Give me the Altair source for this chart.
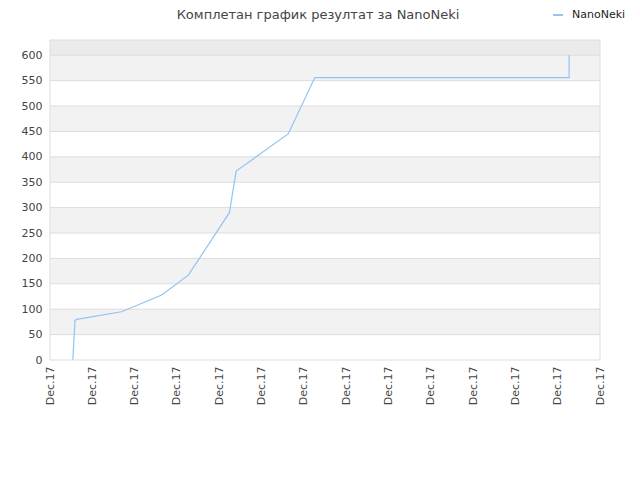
import altair as alt
import pandas as pd

# data
x_pos = [0.54, 0.55, 0.59, 0.63, 1.69, 2.64, 3.27, 4.24, 4.40, 5.63, 6.26, 12.27, 12.27]
scores = [0, 16, 78, 80, 95, 128, 167, 290, 372, 445, 556, 556, 600]
tick_vals = list(range(14))
tick_label = "Dec.17"
y_ticks = list(range(0, 601, 50))
series = "NanoNeki"
title = "Комплетан график резултат за NanoNeki"

FONT = "DejaVu Sans"
LINE = "#92c3f3"
W, H = 550, 320
YMAX = 630

df = pd.DataFrame({"x": x_pos, "y": scores, "o": list(range(len(x_pos)))})
bands = pd.DataFrame({
    "y0": [v for v in y_ticks[1::2]] + [600],
    "y1": [v + 50 for v in y_ticks[1::2]] + [YMAX],
    "c": ["#f2f2f2"] * len(y_ticks[1::2]) + ["#ebebeb"],
})
grid = pd.DataFrame({"g": y_ticks[1:]})

xs = alt.Scale(domain=[0, 13], nice=False, zero=False)
ys = alt.Scale(domain=[0, YMAX], nice=False)

yaxis = alt.Axis(
    values=y_ticks, title=None, ticks=False, domain=False, grid=False,
    labelFont=FONT, labelFontSize=11, labelColor="#444", labelPadding=8)

band_layer = alt.Chart(bands).mark_rect().encode(
    x=alt.value(0), x2=alt.value(W),
    y=alt.Y("y0:Q", scale=ys, axis=yaxis),
    y2="y1:Q",
    color=alt.Color("c:N", scale=None),
)

grid_layer = alt.Chart(grid).mark_rule(color="#dddddd", strokeWidth=1).encode(
    x=alt.value(0), x2=alt.value(W),
    y=alt.Y("g:Q", scale=ys, axis=yaxis),
)

line = alt.Chart(df).mark_line(color=LINE, strokeWidth=1.2).encode(
    x=alt.X("x:Q", scale=xs, axis=alt.Axis(
        values=tick_vals, labelExpr=f"'{tick_label}'", title=None,
        labelAngle=270, labelAlign="right", labelBaseline="middle",
        labelFont=FONT, labelFontSize=11, labelColor="#444", labelPadding=6,
        ticks=False, domain=False, grid=False, labelOverlap=False, labelFlush=False)),
    y=alt.Y("y:Q", scale=ys, axis=yaxis),
    order="o:Q",
)

border = alt.Chart(pd.DataFrame({"a": [0]})).mark_rect(
    fill=None, stroke="#dddddd", strokeWidth=1
).encode(x=alt.value(0), x2=alt.value(W), y=alt.value(0), y2=alt.value(H))

title_layer = alt.Chart(pd.DataFrame({"t": [title]})).mark_text(
    font=FONT, fontSize=13, color="#444", align="center", baseline="middle"
).encode(x=alt.value(268), y=alt.value(-25), text="t:N")

legend_line = alt.Chart(pd.DataFrame({"a": [0]})).mark_rule(
    color=LINE, strokeWidth=2
).encode(x=alt.value(503), x2=alt.value(513), y=alt.value(-25))

legend_text = alt.Chart(pd.DataFrame({"t": [series]})).mark_text(
    font=FONT, fontSize=11, color="#222", align="left", baseline="middle"
).encode(x=alt.value(522), y=alt.value(-25), text="t:N")

chart = alt.layer(
    band_layer, grid_layer, line, border, title_layer, legend_line, legend_text
).properties(
    width=W, height=H,
    autosize=alt.AutoSizeParams(type="none"),
    padding={"left": 42, "top": 32, "right": 32, "bottom": 112},
    background="white",
).configure_view(stroke=None)

chart.save("out.html", embed_options={"renderer": "svg", "actions": False})
